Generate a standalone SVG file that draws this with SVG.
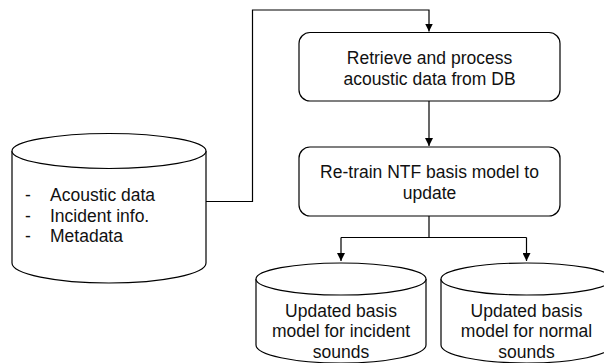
<svg xmlns="http://www.w3.org/2000/svg" width="604" height="363" viewBox="0 0 604 363">
<defs>
<marker id="arr" viewBox="0 0 10 10" refX="10" refY="5" markerWidth="8" markerHeight="8" markerUnits="userSpaceOnUse" orient="auto">
<path d="M0,0 L10,5 L0,10 z" fill="#000"/>
</marker>
<style>
.s{fill:#fff;stroke:#000;stroke-width:1.2}
.c{fill:none;stroke:#000;stroke-width:1.2}
text{font-family:"Liberation Sans",Arial,sans-serif;font-size:17.5px;fill:#111}
.m{text-anchor:middle}
</style>
</defs>
<rect width="604" height="363" fill="#fff"/>
<g id="connectors">
<path class="c" d="M206,201.5 H252.5 V10 H429 V31.5" marker-end="url(#arr)"/>
<path class="c" d="M429,101 V146" marker-end="url(#arr)"/>
<path class="c" d="M429,216 V237.5 M341,237.5 H526.5 M341,237.5 V261" marker-end="url(#arr)"/>
<path class="c" d="M526.5,237.5 V261" marker-end="url(#arr)"/>
</g>
<g id="db">
<path class="s" d="M12,151 V263 A97,20 0 0 0 206,263 V151"/>
<ellipse class="s" cx="109" cy="151" rx="97" ry="17.5"/>
<text x="25" y="201">-</text><text x="50" y="201">Acoustic data</text>
<text x="25" y="222">-</text><text x="50" y="222">Incident info.</text>
<text x="25" y="242">-</text><text x="50" y="242">Metadata</text>
</g>
<g id="retrieve">
<rect class="s" x="299" y="32.5" width="261" height="68.5" rx="11"/>
<text class="m" x="429.5" y="64">Retrieve and process</text>
<text class="m" x="429.5" y="85">acoustic data from DB</text>
</g>
<g id="retrain">
<rect class="s" x="299" y="147" width="261" height="69" rx="11"/>
<text class="m" x="429.5" y="178">Re-train NTF basis model to</text>
<text class="m" x="429.5" y="198.5">update</text>
</g>
<g id="incident">
<path class="s" d="M256,279 V345 A85,18 0 0 0 426,345 V279"/>
<ellipse class="s" cx="341" cy="279" rx="85" ry="16"/>
<text class="m" x="341" y="316.5">Updated basis</text>
<text class="m" x="341" y="337">model for incident</text>
<text class="m" x="341" y="357.5">sounds</text>
</g>
<g id="normal">
<path class="s" d="M441,279 V345 A85.5,18 0 0 0 612,345 V279"/>
<ellipse class="s" cx="526.5" cy="279" rx="85.5" ry="16"/>
<text class="m" x="526.5" y="316.5">Updated basis</text>
<text class="m" x="526.5" y="337">model for normal</text>
<text class="m" x="526.5" y="357.5">sounds</text>
</g>
</svg>
